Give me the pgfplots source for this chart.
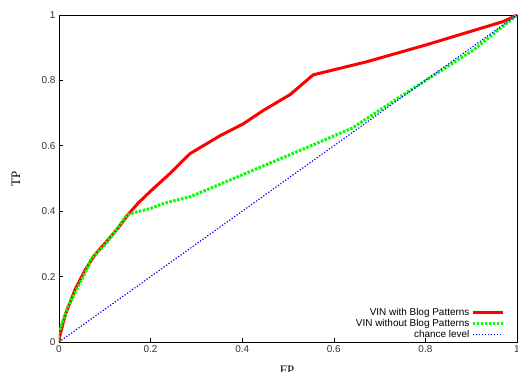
\documentclass[border=0pt]{standalone}
\usepackage{fontspec}
\setmainfont{Liberation Serif}
\setsansfont{Liberation Sans}
\usepackage{pgfplots}
\pgfplotsset{compat=1.18}
\begin{document}
\begin{tikzpicture}
\begin{axis}[
  at={(0,0)}, anchor=origin,
  scale only axis,
  width=458bp, height=327bp,
  xmin=0, xmax=1, ymin=0, ymax=1,
  xtick={0,0.2,0.4,0.6,0.8,1},
  ytick={0,0.2,0.4,0.6,0.8,1},
  xticklabels={0,0.2,0.4,0.6,0.8,1},
  yticklabels={0,0.2,0.4,0.6,0.8,1},
  tick pos=left,
  tick align=inside,
  major tick length=4bp,
  tick style={black, line width=0.6pt},
  axis line style={black, line width=0.8pt},
  ticklabel style={font=\sffamily\fontsize{10}{12}\selectfont, text=black!80},
  /pgf/number format/assume math mode=true,
  xlabel={FP}, ylabel={TP},
  label style={font=\fontsize{13}{15}\selectfont},
  xlabel style={at={(axis description cs:0.498,-0.086)}, anchor=center},
  ylabel style={at={(axis description cs:-0.094,0.498)}, anchor=center},
  legend style={at={(axis cs:0.979,-0.004)}, anchor=south east, draw=none, fill=none,
    font=\sffamily\fontsize{10}{10}\selectfont, row sep=-1.5pt,
    cells={anchor=east}, legend plot pos=right},
  legend cell align=right,
  legend image code/.code={\draw[#1] (0cm,0cm) -- (1.05cm,0cm);},
]
\addplot[color=red, line width=3pt, line join=round] coordinates {
(0,0) (0.002,0.019) (0.013,0.08) (0.035,0.16) (0.057,0.22) (0.079,0.268) (0.108,0.314)
(0.13,0.35) (0.151,0.39) (0.173,0.425) (0.199,0.46) (0.242,0.515) (0.286,0.576)
(0.352,0.631) (0.402,0.667) (0.446,0.708) (0.505,0.757) (0.555,0.817) (0.672,0.857)
(0.80,0.908) (0.97,0.98) (1,1)};
\addlegendentry{VIN with Blog Patterns}
\addplot[color=green, line width=3pt, dash pattern=on 2.5pt off 1.5pt] coordinates {
(0,0) (0,0.03) (0.02,0.11) (0.042,0.17) (0.06,0.22) (0.071,0.257) (0.082,0.272)
(0.1,0.297) (0.122,0.337) (0.148,0.388) (0.162,0.395) (0.199,0.408) (0.231,0.425)
(0.286,0.444) (0.373,0.495) (0.457,0.545) (0.55,0.6) (0.64,0.654) (0.745,0.75)
(0.905,0.893) (1,1)};
\addlegendentry{VIN without Blog Patterns}
\addplot[color=blue, line width=1.2pt, dash pattern=on 1.2pt off 1.8pt] coordinates {(0,0) (1,1)};
\addlegendentry{chance level}
\end{axis}
\pgfresetboundingbox
\path (-59bp,-30bp) rectangle (459bp,342bp);
\end{tikzpicture}
\end{document}
